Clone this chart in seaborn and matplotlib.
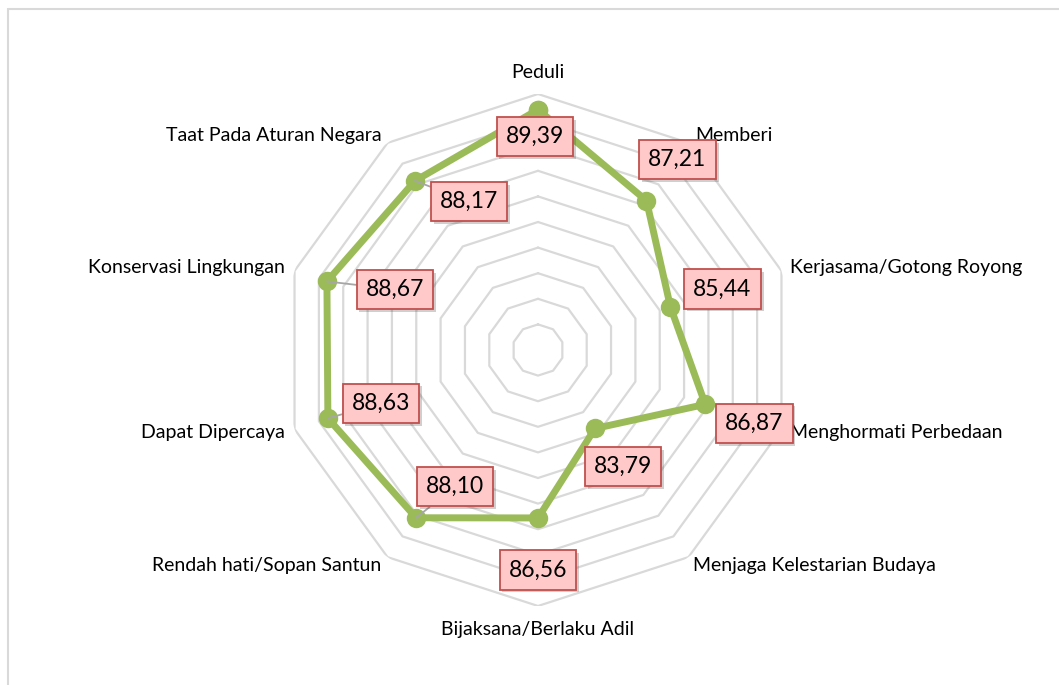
import numpy as np
import pandas as pd
import matplotlib.pyplot as plt
import matplotlib.patheffects as pe
from matplotlib.lines import Line2D
import seaborn as sns

# data radar
categories = ["Peduli", "Memberi", "Kerjasama/Gotong Royong", "Menghormati Perbedaan",
              "Menjaga Kelestarian Budaya", "Bijaksana/Berlaku Adil", "Rendah hati/Sopan Santun",
              "Dapat Dipercaya", "Konservasi Lingkungan", "Taat Pada Aturan Negara"]
values = [89.39, 87.21, 85.44, 86.87, 83.79, 86.56, 88.10, 88.63, 88.67, 88.17]
ring_levels = [81, 82, 83, 84, 85, 86, 87, 88, 89, 90]
r_min, r_max = 80, 90

# posisi teks (piksel, relatif)
cat_offsets = [(0, 22, "center"), (7, 7, "left"), (9, 3, "left"), (9, -3, "left"),
               (5, -8, "left"), (0, -24, "center"), (-6, -8, "right"), (-10, -3, "right"),
               (-10, 3, "right"), (-6, 7, "right")]
lbl_offsets = [(-3, -27), (31, 41), (52, 18), (49, -19), (28, -38),
               (0, -52), (39, 31), (53, 15), (68, -8), (54, -21)]
leader = [False, False, False, False, False, False, True, True, True, True]

sns.set_style("white")
plt.rcParams['font.family'] = ['Lato', 'DejaVu Sans']

W, H = 1059, 685
cx, cy, R = 538, 350, 256
fig = plt.figure(figsize=(W / 100, H / 100), dpi=100)
ax = fig.add_axes([(cx - R) / W, (H - cy - R) / H, 2 * R / W, 2 * R / H], projection='polar')
ax.set_theta_zero_location('N')
ax.set_theta_direction(-1)
ax.patch.set_alpha(0)

n = len(categories)
angles = np.linspace(0, 2 * np.pi, n, endpoint=False)
closed = np.append(angles, 2 * np.pi)

# grid segi sepuluh
for lvl in ring_levels:
    ax.plot(closed, [lvl] * (n + 1), color='#d9d9d9', lw=1.6, zorder=1)

df = pd.DataFrame({"theta": closed, "nilai": values + [values[0]]})
sns.lineplot(data=df, x="theta", y="nilai", sort=False, estimator=None, color='#9bbb59',
             lw=5, marker='o', markersize=14, markeredgewidth=0, ax=ax, zorder=3)

ax.set_ylim(r_min, r_max)
ax.grid(False)
ax.spines['polar'].set_visible(False)
ax.set_xticks([])
ax.set_yticks([])
ax.set_xlabel("")
ax.set_ylabel("")

# label kategori
for ang, cat, (dx, dy, ha) in zip(angles, categories, cat_offsets):
    ax.annotate(cat, xy=(ang, r_max), xytext=(dx, dy), textcoords='offset pixels',
                ha=ha, va='center', fontsize=14, color='#000000', annotation_clip=False)

# label nilai
for ang, v, (dx, dy), ld in zip(angles, values, lbl_offsets, leader):
    arrow = dict(arrowstyle='-', color='#a6a6a6', lw=1.3, shrinkA=0, shrinkB=0) if ld else None
    t = ax.annotate(f"{v:.2f}".replace('.', ','), xy=(ang, v), xytext=(dx, dy),
                    textcoords='offset pixels', ha='center', va='center', fontsize=16.5,
                    color='#000000', annotation_clip=False, zorder=5, arrowprops=arrow,
                    bbox=dict(boxstyle='square,pad=0.4', fc='#ffc9c9', ec='#c0504d', lw=1.3))
    t.get_bbox_patch().set_path_effects([pe.withSimplePatchShadow(offset=(2, -2), alpha=0.25)])

# bingkai grafik
fig.add_artist(Line2D([8 / W, 8 / W], [0, 1 - 9 / H], transform=fig.transFigure, color='#d9d9d9', lw=1.5))
fig.add_artist(Line2D([8 / W, 1], [1 - 9 / H, 1 - 9 / H], transform=fig.transFigure, color='#d9d9d9', lw=1.5))

fig.savefig("out.png", dpi=100)
plt.close()
